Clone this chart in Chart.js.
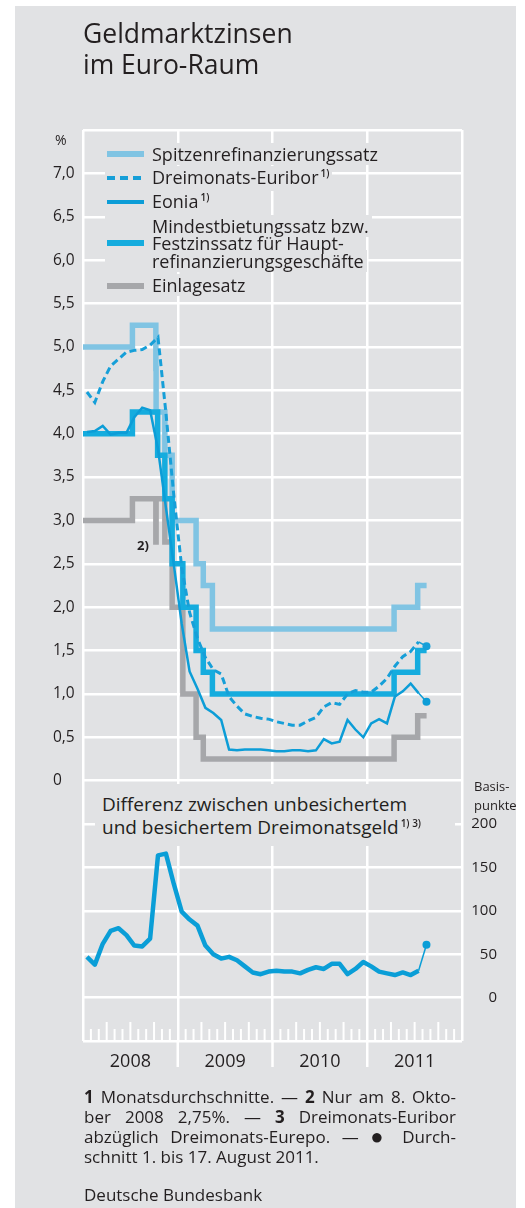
<!DOCTYPE html>
<html>
<head>
<meta charset="utf-8">
<script src="https://cdn.jsdelivr.net/npm/chart.js@4.4.1/dist/chart.umd.min.js"></script>
<style>
  body { margin: 0; background: #fff; font-family: "Open Sans", sans-serif; color: #231f20; }
  #page { position: relative; width: 525px; height: 1208px; overflow: hidden; }
  #panel { position: absolute; left: 15px; top: 6px; width: 501px; height: 1202px; background: #e1e2e4; }
  canvas { position: absolute; left: 0; top: 0; }
  .t { position: absolute; white-space: nowrap; }
  .bg { background: #e1e2e4; }
  #title { left: 83px; top: 18px; font-size: 26.5px; line-height: 31px; }
  .lg { position: absolute; left: 105px; padding: 0 3px 0 47px; font-size: 18px; line-height: 22px; white-space: nowrap; }
  .lg.box { background: #e1e2e4; color: transparent; }
  .sw { position: absolute; left: 107px; width: 37px; }
  sup { font-size: 10px; font-weight: 600; vertical-align: 0; position: relative; top: -7px; margin-left: 2px; }
  #diff { position: absolute; left: 95px; top: 784px; width: 360px; height: 62px; }
  #diff div { padding: 9px 0 0 7px; font-size: 19px; line-height: 23px; white-space: nowrap; }
  .foot { position: absolute; left: 84px; width: 372px; font-size: 17px; line-height: 20px; }
  .foot div { text-align: justify; text-align-last: justify; white-space: nowrap; }
  .foot div.last { text-align-last: left; }
  .dot { font-size: 22px; line-height: 10px; position: relative; top: 1px; }
</style>
</head>
<body>
<div id="page">
  <div id="panel"></div>
  <canvas id="chart" width="525" height="1208"></canvas>
  <div class="t" id="title">Geldmarktzinsen<br>im Euro-Raum</div>
  <div class="t" style="left:55px;top:130px;font-size:14px;">%</div>
  <div id="legend"></div>
  <div class="t" style="left:137px;top:536px;font-size:13px;font-weight:700;">2)</div>
  <div id="diff" class="bg"><div>Differenz zwischen unbesichertem<br>und besichertem Dreimonatsgeld<sup>1) 3)</sup></div></div>
  <div class="t" style="left:474px;top:777px;font-size:13px;line-height:19px;">Basis-<br>punkte</div>
  <div class="foot" style="top:1087px;">
    <div><b>1</b> Monatsdurchschnitte. — <b>2</b> Nur am 8. Okto-</div>
    <div>ber 2008 2,75%. — <b>3</b> Dreimonats-Euribor</div>
    <div>abzüglich Dreimonats-Eurepo. — <span class="dot">●</span> Durch-</div>
    <div class="last">schnitt 1. bis 17. August 2011.</div>
  </div>
  <div class="t" style="left:84px;top:1185px;font-size:17px;line-height:20px;">Deutsche Bundesbank</div>
</div>
<script>
// Leitzinsen (ab Datum gueltig)
const rateChangeDates = ['2008-01-01', '2008-07-09', '2008-10-08', '2008-10-09', '2008-10-15', '2008-11-12',
  '2008-12-10', '2009-01-21', '2009-03-11', '2009-04-08', '2009-05-13', '2011-04-13', '2011-07-13', '2011-08-17'];
const spitzenrefiSatz = [5.00, 5.25, 4.75, 4.25, 4.25, 3.75, 3.00, 3.00, 2.50, 2.25, 1.75, 2.00, 2.25, 2.25];
const hauptrefiSatz   = [4.00, 4.25, 4.25, 4.25, 3.75, 3.25, 2.50, 2.00, 1.50, 1.25, 1.00, 1.25, 1.50, 1.50];
const einlageSatz     = [3.00, 3.25, 2.75, 3.25, 3.25, 2.75, 2.00, 1.00, 0.50, 0.25, 0.25, 0.50, 0.75, 0.75];

// Monatsdurchschnitte Jan 2008 .. Aug 2011 (Aug = 1.-17.)
const euribor = [4.48, 4.36, 4.60, 4.78, 4.86, 4.94, 4.96, 4.97, 5.02, 5.11, 4.24, 3.29,
  2.46, 1.94, 1.64, 1.42, 1.28, 1.23, 0.97, 0.86, 0.77, 0.74, 0.72, 0.71,
  0.68, 0.66, 0.64, 0.64, 0.69, 0.73, 0.85, 0.90, 0.88, 1.00, 1.04, 1.02,
  1.02, 1.09, 1.18, 1.32, 1.43, 1.49, 1.60, 1.55];
const eonia = [4.02, 4.03, 4.09, 3.99, 4.01, 4.01, 4.19, 4.30, 4.27, 3.82, 3.15, 2.49,
  1.81, 1.26, 1.06, 0.84, 0.78, 0.70, 0.36, 0.35, 0.36, 0.36, 0.36, 0.35,
  0.34, 0.34, 0.35, 0.35, 0.34, 0.35, 0.48, 0.43, 0.45, 0.70, 0.59, 0.50,
  0.66, 0.71, 0.66, 0.97, 1.03, 1.12, 1.01, 0.91];
// Euribor minus Eurepo, Basispunkte
const spread = [47, 38, 62, 77, 80, 72, 60, 59, 68, 164, 166, 131,
  99, 90, 83, 60, 50, 45, 47, 43, 36, 29, 27, 30,
  31, 30, 30, 28, 32, 35, 33, 39, 39, 27, 33, 41,
  36, 30, 28, 26, 29, 26, 31, 61];

const jahre = ['2008', '2009', '2010', '2011'];

const colors = {
  spitzen: '#80c4e3',
  haupt: '#15acde',
  einlage: '#a6a7aa',
  euribor: '#169fd8',
  eonia: '#0c9dd7',
  spread: '#0a9ed7',
};

// legend (html); boxes first so they hide the grid but not neighbouring text
const legendRows = [
  { top: 143, html: 'Spitzenrefinanzierungssatz' },
  { top: 166, html: 'Dreimonats-Euribor<sup>1)</sup>' },
  { top: 190, html: 'Eonia<sup>1)</sup>' },
  { top: 215, html: 'Mindestbietungssatz bzw.' },
  { top: 232, html: 'Festzinssatz für Haupt-' },
  { top: 250, html: 'refinanzierungsgeschäfte' },
  { top: 274, html: 'Einlagesatz' },
];
const legendSwatches = [
  { y: 154, h: 6, bg: colors.spitzen },
  { y: 178, h: 3.5, bg: `repeating-linear-gradient(90deg, ${colors.euribor} 0 8px, transparent 8px 13px)` },
  { y: 201.5, h: 4, bg: colors.eonia },
  { y: 243, h: 6, bg: colors.haupt },
  { y: 286, h: 6, bg: colors.einlage },
];
const legendEl = document.getElementById('legend');
['lg box', 'lg'].forEach(cls => {
  legendRows.forEach(r => {
    const d = document.createElement('div');
    d.className = cls;
    d.style.top = r.top + 'px';
    d.innerHTML = r.html;
    legendEl.appendChild(d);
  });
});
legendSwatches.forEach(s => {
  const d = document.createElement('div');
  d.className = 'sw';
  d.style.top = (s.y - s.h / 2) + 'px';
  d.style.height = s.h + 'px';
  d.style.background = s.bg;
  legendEl.appendChild(d);
});

const monthPos = (iso) => {
  const [y, m, d] = iso.split('-').map(Number);
  const days = new Date(y, m, 0).getDate();
  return (y - 2008) * 12 + (m - 1) + (d - 1) / days;
};
const stepData = (vals) => rateChangeDates.map((d, i) => ({ x: monthPos(d), y: vals[i] }));
const monthData = (vals) => vals.map((v, i) => ({ x: i + 0.5, y: v }));

const lastIdx = eonia.length - 1;
const partialSeg = (w) => ({
  borderWidth: c => c.p1DataIndex === lastIdx ? 1.5 : w,
  borderDash: c => c.p1DataIndex === lastIdx ? [] : undefined,
});
const lastDot = c => c.dataIndex === lastIdx ? 4 : 0;

const monthTicks = {
  id: 'monthTicks',
  beforeDatasetsDraw(chart) {
    const { ctx, chartArea, scales: { x } } = chart;
    ctx.save();
    ctx.strokeStyle = '#fff';
    ctx.lineWidth = 2;
    for (let m = 1; m < 48; m++) {
      if (m % 12 === 0) continue;
      const px = x.getPixelForValue(m);
      const len = m % 3 === 0 ? 19 : 12;
      ctx.beginPath();
      ctx.moveTo(px, chartArea.bottom);
      ctx.lineTo(px, chartArea.bottom - len);
      ctx.stroke();
    }
    ctx.lineWidth = 2.5;
    [12, 24, 36].forEach(m => {
      const px = x.getPixelForValue(m);
      ctx.beginPath();
      ctx.moveTo(px, chartArea.bottom);
      ctx.lineTo(px, chartArea.bottom + 26);
      ctx.stroke();
    });
    ctx.restore();
  }
};

Chart.defaults.font.family = "'Open Sans', sans-serif";
Chart.defaults.color = '#231f20';

new Chart(document.getElementById('chart'), {
  type: 'line',
  data: {
    datasets: [
      {
        label: 'Eonia', data: monthData(eonia), yAxisID: 'y',
        borderColor: colors.eonia, backgroundColor: colors.eonia, borderWidth: 2.5,
        pointRadius: lastDot, pointBorderWidth: 0, segment: partialSeg(2.5),
      },
      {
        label: 'Dreimonats-Euribor', data: monthData(euribor), yAxisID: 'y',
        borderColor: colors.euribor, backgroundColor: colors.euribor, borderWidth: 3, borderDash: [7, 4],
        pointRadius: lastDot, pointBorderWidth: 0, segment: partialSeg(3),
      },
      {
        label: 'Differenz', data: monthData(spread), yAxisID: 'y2',
        borderColor: colors.spread, backgroundColor: colors.spread, borderWidth: 4.5, borderJoinStyle: 'round',
        pointRadius: lastDot, pointBorderWidth: 0, segment: partialSeg(4.5),
      },
      {
        label: 'Hauptrefinanzierungssatz', data: stepData(hauptrefiSatz), yAxisID: 'y',
        borderColor: colors.haupt, borderWidth: 5.5, stepped: true, pointRadius: 0,
      },
      {
        label: 'Spitzenrefinanzierungssatz', data: stepData(spitzenrefiSatz), yAxisID: 'y',
        borderColor: colors.spitzen, borderWidth: 5.5, stepped: true, pointRadius: 0,
      },
      {
        label: 'Einlagesatz', data: stepData(einlageSatz), yAxisID: 'y',
        borderColor: colors.einlage, borderWidth: 5.5, stepped: true, pointRadius: 0,
      },
    ]
  },
  options: {
    responsive: false,
    animation: false,
    devicePixelRatio: 1,
    layout: { padding: { left: 53, right: 28, top: 130, bottom: 137 } },
    plugins: { legend: { display: false }, tooltip: { enabled: false } },
    scales: {
      x: {
        type: 'linear', min: 0, max: 48,
        afterBuildTicks: s => { s.ticks = [0, 6, 12, 18, 24, 30, 36, 42, 48].map(v => ({ value: v })); },
        afterFit: s => { s.height = 30; },
        ticks: {
          autoSkip: false, maxRotation: 0, padding: 10, font: { size: 18 },
          callback: v => v % 12 === 6 ? jahre[(v - 6) / 12] : '',
        },
        grid: {
          color: c => (c.tick && c.tick.value % 12 === 0) ? '#fff' : 'rgba(0,0,0,0)',
          lineWidth: 2.5, drawTicks: false,
        },
        border: { display: false },
      },
      y: {
        type: 'linear', position: 'left', min: -3, max: 7.5,
        afterFit: s => { s.width = 30; },
        ticks: {
          stepSize: 0.5, autoSkip: false, crossAlign: 'far', padding: 0, font: { size: 15.5 },
          callback: v => (v >= 0 && v <= 7.001) ? (v === 0 ? '0' : v.toFixed(1).replace('.', ',')) : '',
        },
        grid: { color: '#fff', lineWidth: 2.5, drawTicks: false },
        border: { display: false },
      },
      y2: {
        type: 'linear', position: 'right', min: -50, max: 1000,
        afterFit: s => { s.width = 35; },
        ticks: {
          stepSize: 50, autoSkip: false, crossAlign: 'far', padding: 0, font: { size: 15 },
          callback: v => (v >= 0 && v <= 200) ? String(v) : '',
        },
        grid: { display: false },
        border: { display: false },
      },
    }
  },
  plugins: [monthTicks]
});
</script>
</body>
</html>
